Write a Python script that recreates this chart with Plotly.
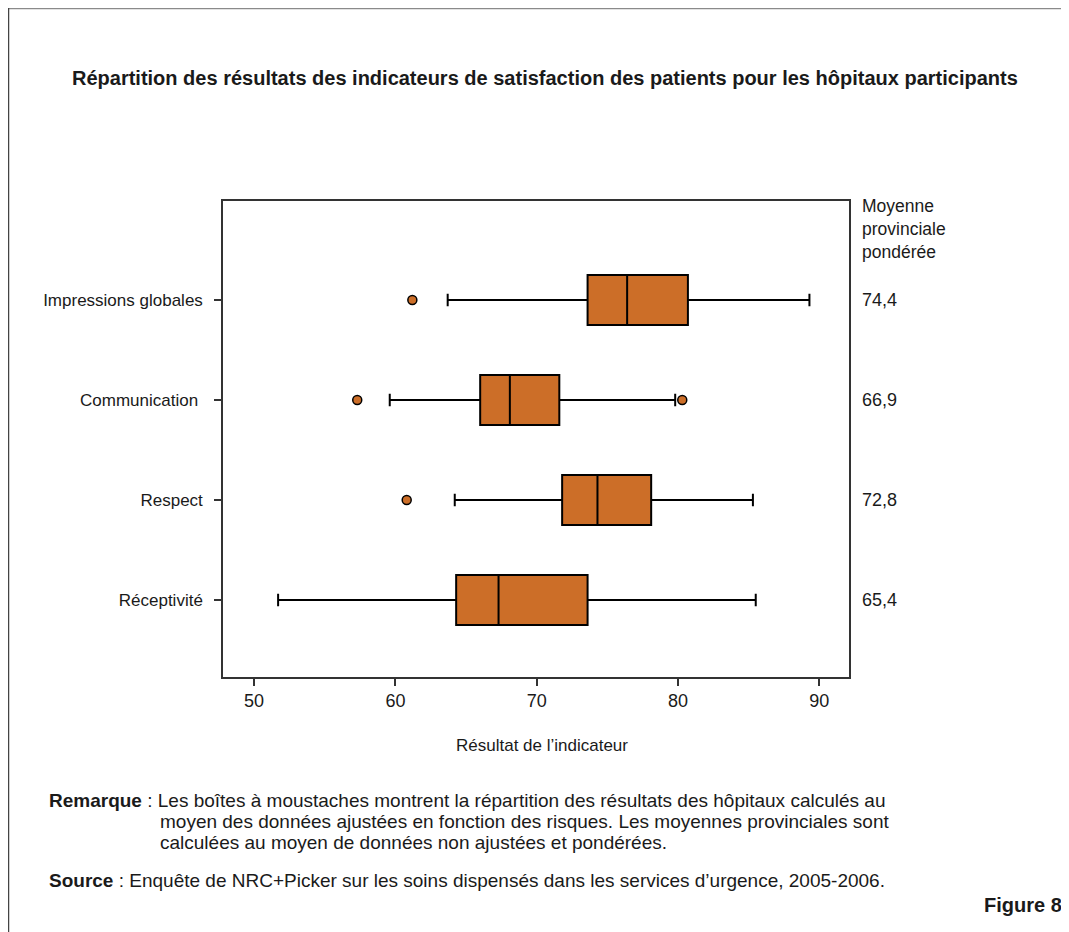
import plotly.graph_objects as go

# ---------------- data ----------------
categories = ["Impressions globales", "Communication ", "Respect", "Réceptivité"]
lower_whisker = [63.7, 59.6, 64.2, 51.7]
q1_values = [73.6, 66.0, 71.8, 64.3]
medians = [76.4, 68.1, 74.3, 67.3]
q3_values = [80.7, 71.6, 78.1, 73.6]
upper_whisker = [89.3, 79.8, 85.3, 85.5]
outlier_cats = ["Impressions globales", "Communication ", "Communication ", "Respect"]
outlier_vals = [61.2, 57.3, 80.3, 60.8]
provincial_means = ["74,4", "66,9", "72,8", "65,4"]
x_ticks = [50, 60, 70, 80, 90]

title = "Répartition des résultats des indicateurs de satisfaction des patients pour les hôpitaux participants"
x_title = "Résultat de l’indicateur"
right_header = "Moyenne<br>provinciale<br>pondérée"
note_lines = [
    "<b>Remarque</b> : Les boîtes à moustaches montrent la répartition des résultats des hôpitaux calculés au",
    "moyen des données ajustées en fonction des risques. Les moyennes provinciales sont",
    "calculées au moyen de données non ajustées et pondérées.",
]
source_line = "<b>Source</b> : Enquête de NRC+Picker sur les soins dispensés dans les services d’urgence, 2005-2006."
figure_label = "Figure 8"

# ---------------- layout geometry (screen pixels) ----------------
OFF = 8                      # page body margin
SW, SH = 1069, 932
W, H = SW - OFF, SH - OFF    # figure size
L, R, T, B = 223, 849, 201, 677
PW, PH = R - L, B - T


def px(x):
    return (x - L) / PW


def py(y):
    return (B - y) / PH


FONT = "Liberation Sans, Arial, Helvetica, sans-serif"
TXT = "#1a1a1a"
ORANGE = "#CC6E28"

fig = go.Figure()

fig.add_trace(go.Box(
    y=categories,
    q1=q1_values,
    median=medians,
    q3=q3_values,
    lowerfence=lower_whisker,
    upperfence=upper_whisker,
    orientation="h",
    fillcolor=ORANGE,
    line=dict(color="black", width=2),
    whiskerwidth=0.25,
    width=0.5,
    boxpoints=False,
    showlegend=False,
    hoverinfo="skip",
))

fig.add_trace(go.Scatter(
    x=outlier_vals,
    y=outlier_cats,
    mode="markers",
    marker=dict(color=ORANGE, size=9, line=dict(color="black", width=1.5)),
    showlegend=False,
    hoverinfo="skip",
))

annotations = []
annotations.append(dict(text="<b>" + title + "</b>", x=px(545), y=py(78), xref="paper", yref="paper",
                        xanchor="center", yanchor="middle", showarrow=False,
                        font=dict(family=FONT, size=20, color=TXT)))
annotations.append(dict(text=right_header, x=px(860), y=py(229), xref="paper", yref="paper",
                        xanchor="left", yanchor="middle", align="left", showarrow=False,
                        font=dict(family=FONT, size=17.5, color=TXT)))
for cat, val in zip(categories, provincial_means):
    annotations.append(dict(text=val, x=px(860), y=cat, xref="paper", yref="y",
                            xanchor="left", yanchor="middle", showarrow=False,
                            font=dict(family=FONT, size=18, color=TXT)))
note_y = [800, 821, 842]
note_x = [47, 158, 158]
for t, xx, yy in zip(note_lines, note_x, note_y):
    annotations.append(dict(text=t, x=px(xx), y=py(yy), xref="paper", yref="paper",
                            xanchor="left", yanchor="middle", showarrow=False,
                            font=dict(family=FONT, size=19, color=TXT)))
annotations.append(dict(text=source_line, x=px(47), y=py(880), xref="paper", yref="paper",
                        xanchor="left", yanchor="middle", showarrow=False,
                        font=dict(family=FONT, size=19, color=TXT)))
annotations.append(dict(text="<b>" + figure_label + "</b>", x=px(1064), y=py(905), xref="paper", yref="paper",
                        xanchor="right", yanchor="middle", showarrow=False,
                        font=dict(family=FONT, size=20, color=TXT)))
annotations.append(dict(text=x_title, x=px(542), y=py(745), xref="paper", yref="paper",
                        xanchor="center", yanchor="middle", showarrow=False,
                        font=dict(family=FONT, size=17, color=TXT)))

shapes = [
    dict(type="line", xref="paper", yref="paper", x0=px(8), x1=px(1075), y0=py(8.5), y1=py(8.5),
         line=dict(color="#8a8a8a", width=1.5)),
    dict(type="line", xref="paper", yref="paper", x0=px(8.5), x1=px(8.5), y0=py(8), y1=py(940),
         line=dict(color="#444444", width=1.5)),
]

fig.update_layout(
    width=W, height=H, autosize=False,
    margin=dict(l=L - OFF, r=SW - R, t=T - OFF, b=SH - B),
    paper_bgcolor="white", plot_bgcolor="white",
    annotations=annotations, shapes=shapes,
    font=dict(family=FONT, size=17, color=TXT),
)

fig.update_xaxes(
    range=[47.8, 92.1], tickvals=x_ticks, ticktext=[str(v) for v in x_ticks],
    showgrid=False, zeroline=False, showline=True, linecolor="#333333", linewidth=1.5, mirror=True,
    ticks="outside", ticklen=7, tickwidth=1.5, tickcolor="#333333",
    tickfont=dict(family=FONT, size=18, color=TXT),
)
fig.update_yaxes(
    type="category", categoryorder="array", categoryarray=categories,
    range=[3.77, -0.99],
    showgrid=False, zeroline=False, showline=True, linecolor="#333333", linewidth=1.5, mirror=True,
    ticks="outside", ticklen=7, tickwidth=1.5, tickcolor="#333333",
    tickfont=dict(family=FONT, size=17, color=TXT),
    ticklabelstandoff=8,
)

fig.write_html("out.html")
